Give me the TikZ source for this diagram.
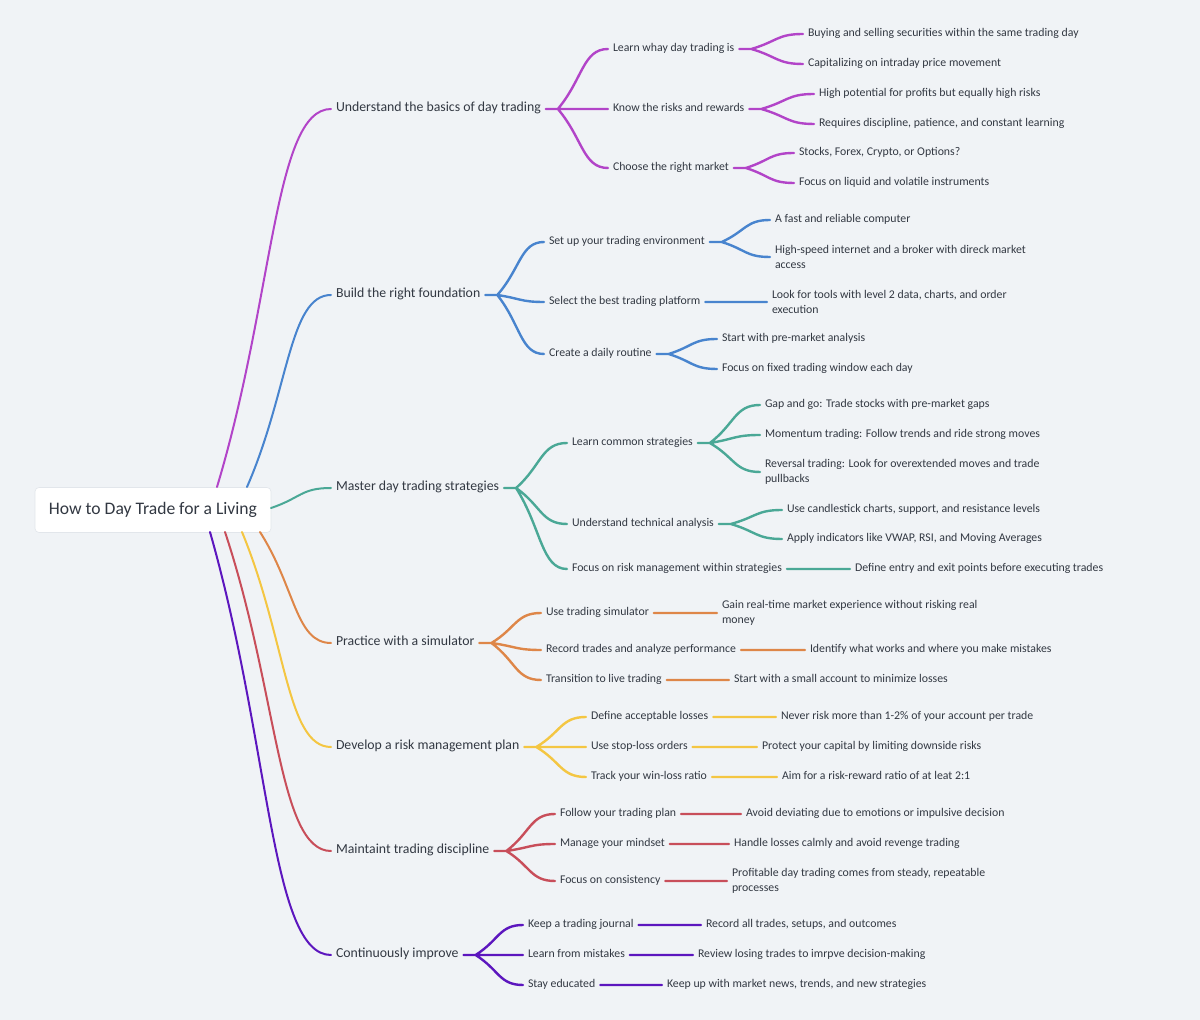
\documentclass[tikz,border=0pt]{standalone}
\usepackage{fontspec}
\setmainfont{Carlito}
\usetikzlibrary{calc}
\definecolor{bg}{RGB}{240,243,246}
\definecolor{ink}{RGB}{50,56,66}
\definecolor{frame}{RGB}{226,230,235}
\definecolor{cA}{RGB}{178,68,200}
\definecolor{cB}{RGB}{72,132,206}
\definecolor{cC}{RGB}{74,168,150}
\definecolor{cD}{RGB}{222,134,72}
\definecolor{cE}{RGB}{244,198,66}
\definecolor{cF}{RGB}{200,78,90}
\definecolor{cG}{RGB}{92,22,190}

\begin{document}
\begin{tikzpicture}[x=0.5pt,y=-0.5pt,
  every node/.style={anchor=west,inner sep=0pt,outer xsep=2.5pt,text=ink},
  rootbox/.style={anchor=center,fill=white,draw=frame,line width=0.3pt,rounded corners=2pt,
    minimum width=118pt,minimum height=22.5pt,outer sep=0pt,font=\fontsize{8.8}{10}\selectfont},
  topic/.style={font=\fontsize{6.9}{8}\selectfont,text height=4.6pt,text depth=1.6pt},
  leaf/.style={font=\fontsize{5.9}{7.5}\selectfont,text height=3.9pt,text depth=1.5pt},
  note/.style={font=\fontsize{5.9}{7.5}\selectfont,align=left},
  fork/.style={to path={.. controls ($(\tikztostart)!.5!(\tikztotarget)$)
    and ($(\tikztotarget)!.5!(\tikztostart |- \tikztotarget)$) .. (\tikztotarget)}},
  link/.style={line width=1.2pt,line cap=round},
  trunk/.style={line width=1pt,line cap=round}]
\fill[bg] (0,-1) rectangle (1200,1019);

\node[rootbox] at(153,509)(title){How to Day Trade for a Living};
\coordinate (ra) at (217,486);
\coordinate (rb) at (247,486);
\coordinate (rc) at (271,507);
\coordinate (rd) at (260,531);
\coordinate (re) at (242,531);
\coordinate (rf) at (225,531);
\coordinate (rg) at (210,531);

% understand the basics
\node[topic] at(331,108)(basics){Understand the basics of day trading};
\node[leaf] at(608,48)(a1){Learn whay day trading is};
\node[leaf] at(608,108)(a2){Know the risks and rewards};
\node[leaf] at(608,167)(a3){Choose the right market};
\node[leaf] at(803,33)(a11){Buying and selling securities within the same trading day};
\node[leaf] at(803,63)(a12){Capitalizing on intraday price movement};
\node[leaf] at(814,93)(a21){High potential for profits but equally high risks};
\node[leaf] at(814,123)(a22){Requires discipline, patience, and constant learning};
\node[leaf] at(794,152)(a31){Stocks, Forex, Crypto, or Options?};
\node[leaf] at(794,182)(a32){Focus on liquid and volatile instruments};

% foundation
\node[topic] at(331,294)(found){Build the right foundation};
\node[leaf] at(544,241)(b1){Set up your trading environment};
\node[leaf] at(544,301)(b2){Select the best trading platform};
\node[leaf] at(544,353)(b3){Create a daily routine};
\node[leaf] at(770,219)(b11){A fast and reliable computer};
\node[note] at(770,256)(b12){High-speed internet and a broker with direck market\\access};
\node[note] at(767,301)(b21){Look for tools with level 2 data, charts, and order\\execution};
\node[leaf] at(717,338)(b31){Start with pre-market analysis};
\node[leaf] at(717,368)(b32){Focus on fixed trading window each day};

% strategies
\node[topic] at(331,487)(strat){Master day trading strategies};
\node[leaf] at(567,442)(c1){Learn common strategies};
\node[leaf] at(567,523)(c2){Understand technical analysis};
\node[leaf] at(567,568)(c3){Focus on risk management within strategies};
\node[leaf] at(760,404)(c11){Gap and go: Trade stocks with pre-market gaps};
\node[leaf] at(760,434)(c12){Momentum trading: Follow trends and ride strong moves};
\node[note] at(760,471)(c13){Reversal trading: Look for overextended moves and trade\\pullbacks};
\node[leaf] at(782,509)(c21){Use candlestick charts, support, and resistance levels};
\node[leaf] at(782,538)(c22){Apply indicators like VWAP, RSI, and Moving Averages};
\node[leaf] at(850,568)(c31){Define entry and exit points before executing trades};

% simulator
\node[topic] at(331,642)(sim){Practice with a simulator};
\node[leaf] at(541,612)(d1){Use trading simulator};
\node[leaf] at(541,649)(d2){Record trades and analyze performance};
\node[leaf] at(541,679)(d3){Transition to live trading};
\node[note] at(717,612)(d11){Gain real-time market experience without risking real\\money};
\node[leaf] at(805,649)(d21){Identify what works and where you make mistakes};
\node[leaf] at(729,679)(d31){Start with a small account to minimize losses};

% risk plan
\node[topic] at(331,746)(plan){Develop a risk management plan};
\node[leaf] at(586,716)(e1){Define acceptable losses};
\node[leaf] at(586,746)(e2){Use stop-loss orders};
\node[leaf] at(586,776)(e3){Track your win-loss ratio};
\node[leaf] at(776,716)(e11){Never risk more than 1-2\% of your account per trade};
\node[leaf] at(757,746)(e21){Protect your capital by limiting downside risks};
\node[leaf] at(777,776)(e31){Aim for a risk-reward ratio of at leat 2:1};

% discipline
\node[topic] at(331,850)(disc){Maintaint trading discipline};
\node[leaf] at(555,813)(f1){Follow your trading plan};
\node[leaf] at(555,843)(f2){Manage your mindset};
\node[leaf] at(555,880)(f3){Focus on consistency};
\node[leaf] at(741,813)(f11){Avoid deviating due to emotions or impulsive decision};
\node[leaf] at(729,843)(f21){Handle losses calmly and avoid revenge trading};
\node[note] at(727,880)(f31){Profitable day trading comes from steady, repeatable\\processes};

% improve
\node[topic] at(331,954)(impr){Continuously improve};
\node[leaf] at(523,924)(g1){Keep a trading journal};
\node[leaf] at(523,954)(g2){Learn from mistakes};
\node[leaf] at(523,984)(g3){Stay educated};
\node[leaf] at(701,924)(g11){Record all trades, setups, and outcomes};
\node[leaf] at(693,954)(g21){Review losing trades to imrpve decision-making};
\node[leaf] at(662,984)(g31){Keep up with market news, trends, and new strategies};

% junctions
\foreach \p in {basics,a1,a2,a3,found,b1,b3,strat,c1,c2,sim,plan,disc,impr}
  \coordinate (\p j) at ([xshift=6pt]\p.east);

\draw[trunk,cA] (ra) to[fork] (basics.west);
\draw[trunk,cB] (rb) to[fork] (found.west);
\draw[trunk,cC] (rc) to[fork] (strat.west);
\draw[trunk,cD] (rd) to[fork] (sim.west);
\draw[trunk,cE] (re) to[fork] (plan.west);
\draw[trunk,cF] (rf) to[fork] (disc.west);
\draw[trunk,cG] (rg) to[fork] (impr.west);

\draw[link,cA] (basics.east)--(basicsj) (basicsj) to[fork] (a1.west) (basicsj) to[fork] (a2.west) (basicsj) to[fork] (a3.west)
  (a1.east)--(a1j) (a1j) to[fork] (a11.west) (a1j) to[fork] (a12.west)
  (a2.east)--(a2j) (a2j) to[fork] (a21.west) (a2j) to[fork] (a22.west)
  (a3.east)--(a3j) (a3j) to[fork] (a31.west) (a3j) to[fork] (a32.west);
\draw[link,cB] (found.east)--(foundj) (foundj) to[fork] (b1.west) (foundj) to[fork] (b2.west) (foundj) to[fork] (b3.west)
  (b1.east)--(b1j) (b1j) to[fork] (b11.west) (b1j) to[fork] (b12.west)
  (b2.east)--(b21.west)
  (b3.east)--(b3j) (b3j) to[fork] (b31.west) (b3j) to[fork] (b32.west);
\draw[link,cC] (strat.east)--(stratj) (stratj) to[fork] (c1.west) (stratj) to[fork] (c2.west) (stratj) to[fork] (c3.west)
  (c1.east)--(c1j) (c1j) to[fork] (c11.west) (c1j) to[fork] (c12.west) (c1j) to[fork] (c13.west)
  (c2.east)--(c2j) (c2j) to[fork] (c21.west) (c2j) to[fork] (c22.west)
  (c3.east)--(c31.west);
\draw[link,cD] (sim.east)--(simj) (simj) to[fork] (d1.west) (simj) to[fork] (d2.west) (simj) to[fork] (d3.west)
  (d1.east)--(d11.west) (d2.east)--(d21.west) (d3.east)--(d31.west);
\draw[link,cE] (plan.east)--(planj) (planj) to[fork] (e1.west) (planj) to[fork] (e2.west) (planj) to[fork] (e3.west)
  (e1.east)--(e11.west) (e2.east)--(e21.west) (e3.east)--(e31.west);
\draw[link,cF] (disc.east)--(discj) (discj) to[fork] (f1.west) (discj) to[fork] (f2.west) (discj) to[fork] (f3.west)
  (f1.east)--(f11.west) (f2.east)--(f21.west) (f3.east)--(f31.west);
\draw[link,cG] (impr.east)--(imprj) (imprj) to[fork] (g1.west) (imprj) to[fork] (g2.west) (imprj) to[fork] (g3.west)
  (g1.east)--(g11.west) (g2.east)--(g21.west) (g3.east)--(g31.west);
\end{tikzpicture}
\end{document}
